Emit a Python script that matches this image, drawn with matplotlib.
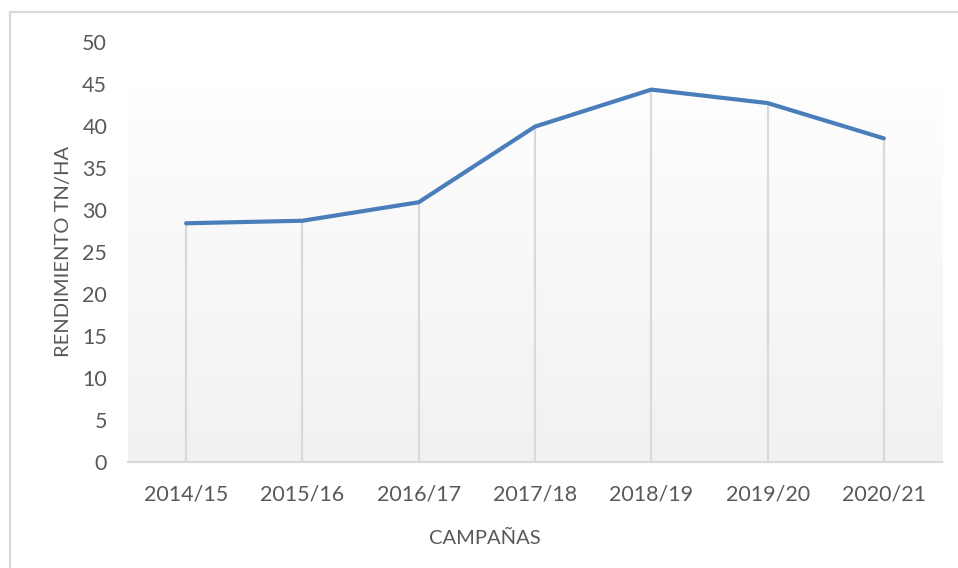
import matplotlib.pyplot as plt
import numpy as np
from matplotlib.patches import Rectangle
from matplotlib.colors import LinearSegmentedColormap

campanas = ["2014/15", "2015/16", "2016/17", "2017/18", "2018/19", "2019/20", "2020/21"]
rendimiento = [28.4, 28.7, 30.9, 39.9, 44.3, 42.7, 38.5]

plt.rcParams['font.family'] = ['Lato', 'DejaVu Sans']
txt_color = '#595959'
grey = '#d9d9d9'

fig = plt.figure(figsize=(9.58, 5.68), dpi=100)
ax = fig.add_axes([0.1336, 0.1866, 0.8497, 0.74])

x = np.arange(len(campanas))

# plot area gradient (white at top -> light grey at bottom)
grad_cmap = LinearSegmentedColormap.from_list('g', ['#f1f1f1', '#fefefe'])
ax.imshow(np.linspace(0, 1, 256).reshape(-1, 1), cmap=grad_cmap, aspect='auto',
          origin='lower', extent=[0, 1, 0, 0.8875], transform=ax.transAxes, zorder=0)

# drop lines + series
ax.vlines(x, 0, rendimiento, color=grey, lw=1.6, zorder=1)
ax.plot(x, rendimiento, color='#4a7ebb', lw=3.0, solid_capstyle='round',
        solid_joinstyle='round', zorder=3)

ax.set_xlim(-0.5, len(campanas) - 0.5)
ax.set_ylim(0, 50)
ax.set_yticks(np.arange(0, 51, 5))
ax.set_xticks(x)
ax.set_xticklabels(campanas)

for s in ['top', 'right', 'left']:
    ax.spines[s].set_visible(False)
ax.spines['bottom'].set_color(grey)
ax.spines['bottom'].set_linewidth(1.6)
ax.spines['bottom'].set_zorder(2)

ax.tick_params(axis='y', length=0, pad=15, labelsize=15.5, labelcolor=txt_color)
ax.tick_params(axis='x', length=0, pad=16, labelsize=15.5, labelcolor=txt_color)
ax.set_facecolor('none')

ax.set_ylabel("RENDIMIENTO TN/HA", fontsize=14.5, color=txt_color, labelpad=7)
ax.set_xlabel("CAMPAÑAS", fontsize=14.5, color=txt_color)
ax.xaxis.set_label_coords(0.4386, -0.162)

# chart area border
fig.patches.append(Rectangle((10 / 958, -0.05), 1.1, 1.05 - 12 / 568,
                             transform=fig.transFigure, fill=False,
                             edgecolor=grey, lw=1.6, zorder=0))

fig.savefig("out.png", dpi=100)
